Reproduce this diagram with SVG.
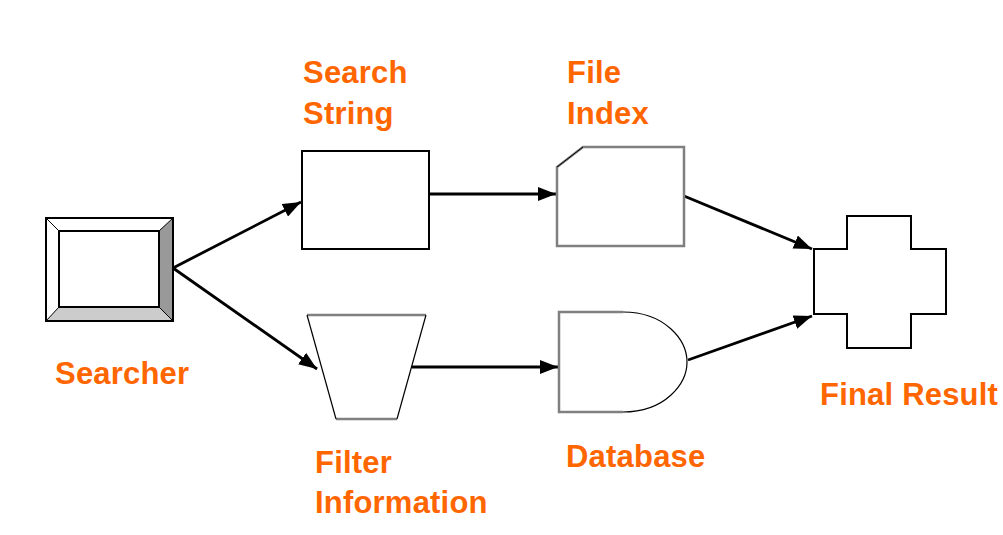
<svg xmlns="http://www.w3.org/2000/svg" width="1003" height="535" viewBox="0 0 1003 535">
<style>
.lbl{font-family:"Liberation Sans",Arial,sans-serif;font-weight:bold;font-size:31px;letter-spacing:0.2px;fill:#FF6600}
.blk{fill:#fff;stroke:#000;stroke-width:2}
.gry{fill:#fff;stroke:#808080;stroke-width:2.5}
.con{stroke:#000;stroke-width:2.8;fill:none;marker-end:url(#ah)}
</style>
<defs>
<marker id="ah" viewBox="0 0 10 10" refX="10" refY="5" markerWidth="6.5" markerHeight="5" markerUnits="strokeWidth" orient="auto" preserveAspectRatio="none">
<path d="M0,0 L10,5 L0,10 z" fill="#000"/>
</marker>
</defs>
<rect width="1003" height="535" fill="#fff"/>
<g id="connectors">
<line class="con" x1="173" y1="268" x2="301" y2="202"/>
<line class="con" x1="173" y1="268" x2="317" y2="369"/>
<line class="con" x1="429" y1="194" x2="556" y2="194"/>
<line class="con" x1="412" y1="367" x2="558" y2="367"/>
<line class="con" x1="684" y1="196" x2="812" y2="249"/>
<line class="con" x1="688" y1="360" x2="812" y2="316"/>
</g>
<g id="searcher">
<rect x="46" y="218" width="127" height="103" fill="#fff" stroke="none"/>
<polygon points="173,218 173,321 159,307 159,231" fill="#999"/>
<polygon points="46,321 173,321 159,307 59,307" fill="#ccc"/>
<line x1="46" y1="218" x2="59" y2="231" stroke="#000" stroke-width="1"/>
<line x1="173" y1="218" x2="159" y2="231" stroke="#000" stroke-width="1"/>
<line x1="46" y1="321" x2="59" y2="307" stroke="#000" stroke-width="1"/>
<line x1="173" y1="321" x2="159" y2="307" stroke="#000" stroke-width="1"/>
<rect x="46" y="218" width="127" height="103" fill="none" stroke="#000" stroke-width="2"/>
<rect x="59" y="231" width="100" height="76" fill="none" stroke="#000" stroke-width="2"/>
<text class="lbl" x="55" y="384">Searcher</text>
</g>
<g id="search-string">
<rect class="blk" x="302" y="151" width="127" height="98"/>
<text class="lbl" x="303" y="83">Search</text>
<text class="lbl" x="303" y="124">String</text>
</g>
<g id="file-index">
<polygon class="gry" points="583,147 684,147 684,246 557,246 557,167"/>
<line x1="557" y1="167" x2="583" y2="147" stroke="#000" stroke-width="1"/>
<text class="lbl" x="567" y="83">File</text>
<text class="lbl" x="567" y="124">Index</text>
</g>
<g id="filter-information">
<polygon points="307,315 426,315 397,419 336,419" fill="#fff" stroke="none"/>
<line x1="307" y1="315" x2="426" y2="315" stroke="#808080" stroke-width="2.5"/>
<line x1="336" y1="419" x2="397" y2="419" stroke="#808080" stroke-width="2.5"/>
<line x1="307" y1="315" x2="336" y2="419" stroke="#000" stroke-width="1.2"/>
<line x1="426" y1="315" x2="397" y2="419" stroke="#000" stroke-width="1.2"/>
<text class="lbl" x="315" y="473">Filter</text>
<text class="lbl" x="315" y="513">Information</text>
</g>
<g id="database">
<path d="M623,312 L559,312 L559,412 L623,412" fill="#fff" stroke="#808080" stroke-width="2.5"/>
<path d="M623,312 C665,312 687,340 687,362 C687,384 665,412 623,412" fill="#fff" stroke="#000" stroke-width="1.2"/>
<text class="lbl" x="566" y="467">Database</text>
</g>
<g id="final-result">
<polygon class="blk" points="847,216 911,216 911,249 946,249 946,314 911,314 911,348 847,348 847,314 814,314 814,249 847,249"/>
<text class="lbl" x="820" y="405">Final Result</text>
</g>
</svg>
